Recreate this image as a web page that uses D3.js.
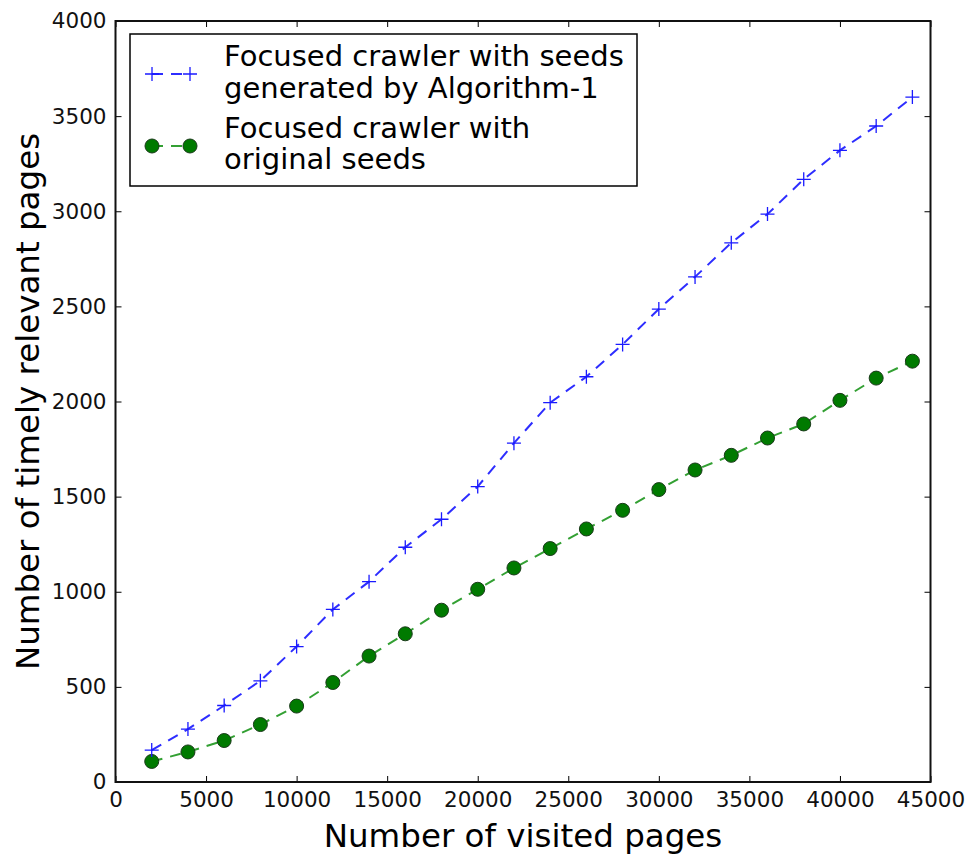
<!DOCTYPE html>
<html>
<head>
<meta charset="utf-8">
<script src="https://cdn.jsdelivr.net/npm/d3@7"></script>
<style>
    body { margin: 0; background: #fff; }
    svg { display: block; font-family: "DejaVu Sans", sans-serif; }
</style>
</head>
<body>
<div id="chart"></div>
<script>
// Visited pages (x) and timely relevant pages found (y)
const visitedPages = [2000, 4000, 6000, 8000, 10000, 12000, 14000, 16000, 18000, 20000, 22000,
    24000, 26000, 28000, 30000, 32000, 34000, 36000, 38000, 40000, 42000, 44000];
const algoSeeds = [168, 278, 402, 532, 712, 907, 1053, 1234, 1381, 1553, 1781,
    1994, 2130, 2300, 2486, 2655, 2834, 2985, 3168, 3320, 3448, 3600];
const originalSeeds = [108, 158, 218, 302, 399, 523, 662, 779, 903, 1013, 1125,
    1227, 1330, 1428, 1537, 1640, 1717, 1808, 1882, 2006, 2123, 2212];
const xTicks = [0, 5000, 10000, 15000, 20000, 25000, 30000, 35000, 40000, 45000];
const yTicks = [0, 500, 1000, 1500, 2000, 2500, 3000, 3500, 4000];
const legendLabels = [
    ["Focused crawler with seeds", "generated by Algorithm-1"],
    ["Focused crawler with", "original seeds"]
];

const width = 968, height = 859;
const margin = { top: 21, right: 37.5, bottom: 77, left: 115.5 };

const svg = d3.select("#chart")
    .append("svg")
    .attr("width", width)
    .attr("height", height);

svg.append("rect").attr("width", width).attr("height", height).attr("fill", "#fff");

const x = d3.scaleLinear().domain([0, 45000]).range([margin.left, width - margin.right]);
const y = d3.scaleLinear().domain([0, 4000]).range([height - margin.bottom, margin.top]);

const tickLen = 6;
const fmt = d3.format("d");

// Axes (classic style: ticks inside, on all four sides)
const xBottom = svg.append("g")
    .attr("transform", `translate(0,${y(0)})`)
    .call(d3.axisBottom(x).tickValues(xTicks).tickFormat(fmt).tickSizeInner(-tickLen).tickSizeOuter(0).tickPadding(10));
const xTop = svg.append("g")
    .attr("transform", `translate(0,${y(4000)})`)
    .call(d3.axisTop(x).tickValues(xTicks).tickSizeInner(-tickLen).tickSizeOuter(0).tickFormat(""));
const yLeft = svg.append("g")
    .attr("transform", `translate(${x(0)},0)`)
    .call(d3.axisLeft(y).tickValues(yTicks).tickFormat(fmt).tickSizeInner(-tickLen).tickSizeOuter(0).tickPadding(9));
const yRight = svg.append("g")
    .attr("transform", `translate(${x(45000)},0)`)
    .call(d3.axisRight(y).tickValues(yTicks).tickSizeInner(-tickLen).tickSizeOuter(0).tickFormat(""));

[xBottom, xTop, yLeft, yRight].forEach(g => {
    g.select(".domain").remove();
    g.selectAll(".tick line").attr("stroke", "#000").attr("stroke-width", 1);
    g.selectAll(".tick text")
        .attr("fill", "#111")
        .style("font-size", "21.5px")
        .style("font-family", "DejaVu Sans");
});
xBottom.selectAll(".tick text").attr("dy", "0.71em");

// Frame
svg.append("rect")
    .attr("x", x(0))
    .attr("y", y(4000))
    .attr("width", x(45000) - x(0))
    .attr("height", y(0) - y(4000))
    .attr("fill", "none")
    .attr("stroke", "#111")
    .attr("stroke-width", 2);

// Axis labels
svg.append("text")
    .attr("x", (x(0) + x(45000)) / 2)
    .attr("y", 847)
    .attr("text-anchor", "middle")
    .style("font-size", "32.5px")
    .attr("fill", "#000")
    .text("Number of visited pages");

svg.append("text")
    .attr("transform", `translate(39,${(y(0) + y(4000)) / 2}) rotate(-90)`)
    .attr("text-anchor", "middle")
    .style("font-size", "32.5px")
    .attr("fill", "#000")
    .text("Number of timely relevant pages");

// Series
const line = d3.line()
    .x(d => x(d[0]))
    .y(d => y(d[1]));

const blueData = visitedPages.map((p, i) => [p, algoSeeds[i]]);
const greenData = visitedPages.map((p, i) => [p, originalSeeds[i]]);

const dash = "11,8";

svg.append("path")
    .datum(greenData)
    .attr("d", line)
    .attr("fill", "none")
    .attr("stroke", "#33a033")
    .attr("stroke-width", 2)
    .attr("stroke-dasharray", dash);

svg.append("g")
    .selectAll("circle")
    .data(greenData)
    .join("circle")
    .attr("cx", d => x(d[0]))
    .attr("cy", d => y(d[1]))
    .attr("r", 7)
    .attr("fill", "#007a00")
    .attr("stroke", "#1a3a1a")
    .attr("stroke-width", 1);

svg.append("path")
    .datum(blueData)
    .attr("d", line)
    .attr("fill", "none")
    .attr("stroke", "#2d2dff")
    .attr("stroke-width", 2)
    .attr("stroke-dasharray", dash);

function drawPlus(g, cx, cy) {
    g.append("path")
        .attr("d", `M${cx - 7},${cy}H${cx + 7}M${cx},${cy - 7}V${cy + 7}`)
        .attr("stroke", "#1a1aff")
        .attr("stroke-width", 1.3)
        .attr("fill", "none");
}
const plusLayer = svg.append("g");
blueData.forEach(d => drawPlus(plusLayer, x(d[0]), y(d[1])));

// Legend
const legend = svg.append("g");
legend.append("rect")
    .attr("x", 130)
    .attr("y", 34)
    .attr("width", 507)
    .attr("height", 152)
    .attr("fill", "#fff")
    .attr("stroke", "#000")
    .attr("stroke-width", 1.5);

const lx1 = 152, lx2 = 190;
// blue entry
legend.append("line")
    .attr("x1", lx1).attr("x2", lx2).attr("y1", 74).attr("y2", 74)
    .attr("stroke", "#2d2dff").attr("stroke-width", 2).attr("stroke-dasharray", dash);
drawPlus(legend, lx1, 74);
drawPlus(legend, lx2, 74);
// green entry
legend.append("line")
    .attr("x1", lx1).attr("x2", lx2).attr("y1", 146).attr("y2", 146)
    .attr("stroke", "#33a033").attr("stroke-width", 2).attr("stroke-dasharray", dash);
[lx1, lx2].forEach(cx => legend.append("circle")
    .attr("cx", cx).attr("cy", 146).attr("r", 7)
    .attr("fill", "#007a00").attr("stroke", "#1a3a1a").attr("stroke-width", 1));

const lineY = [[66, 98], [138, 169]];
legendLabels.forEach((lines, i) => {
    lines.forEach((t, j) => {
        legend.append("text")
            .attr("x", 224)
            .attr("y", lineY[i][j])
            .style("font-size", "29px")
            .attr("fill", "#000")
            .text(t);
    });
});
</script>
</body>
</html>
